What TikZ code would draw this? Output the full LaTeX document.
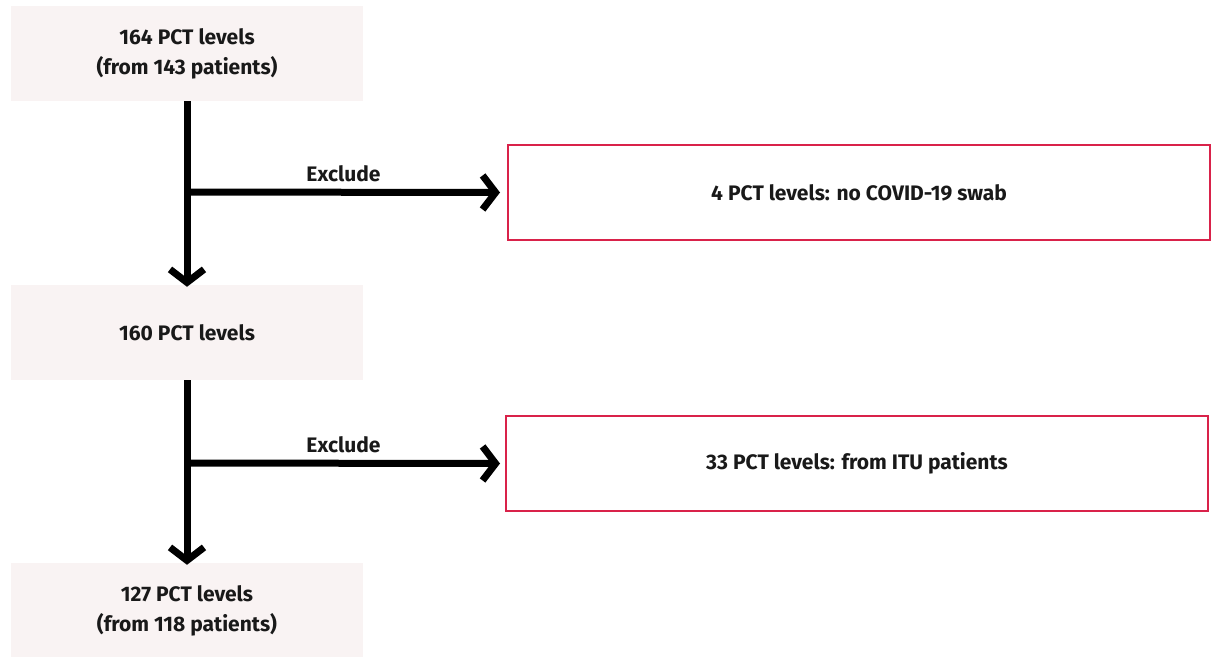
\documentclass[tikz,border=0pt]{standalone}
\usepackage{fontspec}
\setmainfont{Fira Sans}
\usetikzlibrary{arrows.meta}
\definecolor{boxfill}{HTML}{F9F3F3}
\definecolor{redline}{HTML}{D9224A}
\begin{document}
\begin{tikzpicture}[x=1pt,y=-1pt,
  every node/.style={font=\fontsize{21}{30}\selectfont\bfseries, text=black!90},
  grey/.style={fill=boxfill, draw=none, minimum width=352pt, minimum height=95pt, align=center, inner sep=0pt},
  excl/.style={draw=redline, line width=2pt, fill=white, minimum width=702pt, minimum height=95pt, inner sep=0pt},
  flow/.style={line width=7pt, -{Straight Barb[length=13pt,width=34pt,line cap=butt,line join=miter]}},
  lbl/.style={font=\fontsize{21}{24}\selectfont\bfseries}]
\useasboundingbox (0,0) rectangle (1212,656);
\node[grey] (a) at (187,53.5) {164 PCT levels\\(from 143 patients)};
\node[grey] (b) at (187,332.5) {160 PCT levels};
\node[grey] (c) at (187,610.5) {127 PCT levels\\(from 118 patients)};
\node[excl] (e1) at (859,192.5) {4 PCT levels: no COVID-19 swab};
\node[excl] (e2) at (857,463.5) {33 PCT levels: from ITU patients};
\coordinate (j1) at (187,192);
\coordinate (j2) at (187,463);
\draw[flow] (a.south) -- ([yshift=-2pt]b.north);
\draw[flow] (b.south) -- ([yshift=-2pt]c.north);
\draw[flow] (j1) -- node[lbl,above=4pt,pos=0.5] (x1) {Exclude} ([xshift=-7pt]e1.west);
\draw[flow] (j2) -- node[lbl,above=4pt,pos=0.5] (x2) {Exclude} ([xshift=-5pt]e2.west);
\end{tikzpicture}
\end{document}
